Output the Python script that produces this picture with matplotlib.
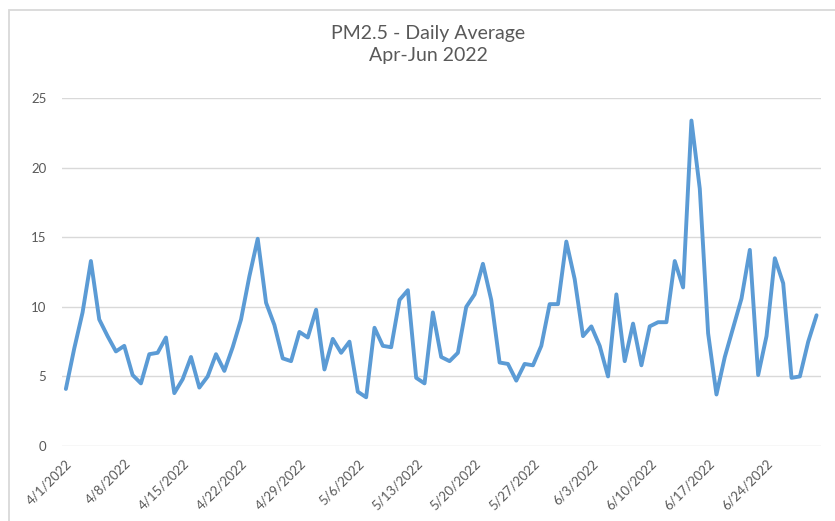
import datetime as dt
import matplotlib
matplotlib.use("Agg")
import matplotlib.pyplot as plt
from matplotlib.patches import Rectangle

plt.rcParams['font.family'] = ['Lato', 'DejaVu Sans']

# daily PM2.5 averages, 4/1/2022 .. 6/30/2022
start_date = dt.date(2022, 4, 1)
pm25 = [
    4.1, 7.0, 9.6, 13.3, 9.1, 7.9, 6.8, 7.2, 5.1, 4.5,
    6.6, 6.7, 7.8, 3.8, 4.8, 6.4, 4.2, 5.0, 6.6, 5.4,
    7.1, 9.1, 12.2, 14.9, 10.3, 8.7, 6.3, 6.1, 8.2, 7.8,
    9.8, 5.5, 7.7, 6.7, 7.5, 3.9, 3.5, 8.5, 7.2, 7.1,
    10.5, 11.2, 4.9, 4.5, 9.6, 6.4, 6.1, 6.7, 10.0, 10.9,
    13.1, 10.5, 6.0, 5.9, 4.7, 5.9, 5.8, 7.2, 10.2, 10.2,
    14.7, 12.0, 7.9, 8.6, 7.2, 5.0, 10.9, 6.1, 8.8, 5.8,
    8.6, 8.9, 8.9, 13.3, 11.4, 23.4, 18.5, 8.1, 3.7, 6.4,
    8.5, 10.6, 14.1, 5.1, 7.9, 13.5, 11.7, 4.9, 5.0, 7.5,
    9.4,
]
dates = [start_date + dt.timedelta(days=i) for i in range(len(pm25))]
day_index = list(range(len(pm25)))
# one label per week
tick_days = day_index[::7]
tick_labels = [f"{d.month}/{d.day}/{d.year}" for d in dates[::7]]
y_ticks = [0, 5, 10, 15, 20, 25]

fig = plt.figure(figsize=(8.35, 5.21), dpi=100)
ax = fig.add_axes([0.0739, 0.144, 0.909, 0.6673])

ax.plot(day_index, pm25, color="#5B9BD5", linewidth=2.8,
        solid_joinstyle="round", solid_capstyle="round", zorder=3)

ax.set_xlim(-0.5, len(pm25) - 0.5)
ax.set_ylim(0, 25)
ax.set_yticks(y_ticks)
ax.set_xticks(tick_days)
ax.set_xticklabels(tick_labels, rotation=45, ha="right", va="top",
                   rotation_mode="anchor")
ax.tick_params(axis="both", length=0, labelsize=9.5, colors="#595959")
ax.tick_params(axis="y", pad=11)
ax.tick_params(axis="x", pad=8)
ax.grid(axis="y", color="#d9d9d9", linewidth=1.0)
ax.set_axisbelow(True)
for side in ax.spines.values():
    side.set_visible(False)

fig.text(0.513, 0.915, "PM2.5 - Daily Average\nApr-Jun 2022", ha="center",
         va="center", fontsize=14, color="#595959", linespacing=1.35)

# outer chart border (runs off the right and bottom edges)
fig.patches.append(Rectangle((8.5 / 835, -0.1), 1.2, 1.1 - 10 / 521,
                             transform=fig.transFigure, fill=False,
                             edgecolor="#d9d9d9", linewidth=1.3))

fig.savefig("out.png", dpi=100)
